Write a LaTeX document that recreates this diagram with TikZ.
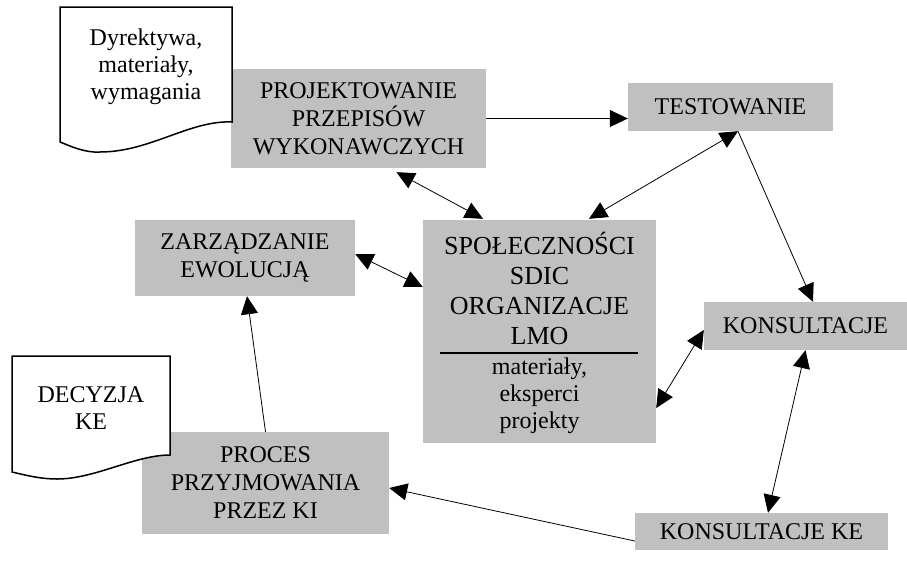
\documentclass[tikz,border=0pt]{standalone}
\usepackage{fontspec}
\setmainfont{Liberation Serif}
\usetikzlibrary{arrows.meta}
\definecolor{szary}{RGB}{192,192,192}

\begin{document}
\begin{tikzpicture}[x=1pt,y=-1pt,
  blok/.style={fill=szary,inner sep=0pt,align=center,font=\fontsize{24}{28}\selectfont},
  dok/.style={draw,fill=white,line width=1.5pt},
  doktekst/.style={inner sep=0pt,align=center,font=\fontsize{24}{27}\selectfont},
  grot/.style={line width=0.8pt,-{Triangle[length=18pt,width=17pt]}},
  grotdwa/.style={line width=0.8pt,{Triangle[length=18pt,width=17pt]}-{Triangle[length=18pt,width=17pt]}}]
  \useasboundingbox (0,0) rectangle (907,560);
  % Bloki
  \node[blok,minimum width=255pt,minimum height=99pt] (proj) at (358.5,118.5)
    {PROJEKTOWANIE\\PRZEPISÓW\\WYKONAWCZYCH};
  \node[blok,minimum width=205pt,minimum height=48pt] (test) at (730.5,107) {TESTOWANIE};
  \node[blok,minimum width=220pt,minimum height=76pt] (zarz) at (245,258)
    {ZARZĄDZANIE\\EWOLUCJĄ};
  \node[blok,minimum width=203pt,minimum height=48pt] (kons) at (805.5,326) {KONSULTACJE};
  \node[blok,minimum width=253pt,minimum height=37pt] (konske) at (761.5,531.5) {KONSULTACJE KE};
  \node[blok,minimum width=247pt,minimum height=102pt] (proc) at (265.5,483)
    {PROCES\\PRZYJMOWANIA\\PRZEZ KI};
  % Blok srodkowy
  \node[blok,minimum width=233pt,minimum height=223pt] (spol) at (539.5,331.5) {};
  \node[inner sep=0pt,align=center,font=\fontsize{26}{30}\selectfont] (spolgora) at (539.5,288.5)
    {SPOŁECZNOŚCI\\SDIC\\ORGANIZACJE\\LMO};
  \draw[line width=1.5pt] (440,353) -- (638,353);
  \node[doktekst] (spoldol) at (539.5,396) {materiały,\\eksperci\\projekty};
  % Dokumenty
  \draw[dok] (60,7) -- (232,7) -- (232,122) .. controls (190,120) and (150,152) .. (100,152)
    .. controls (85,153) and (70,146) .. (60,142) -- cycle;
  \node[doktekst] (dyr) at (146,67) {Dyrektywa,\\materiały,\\wymagania};
  \draw[dok] (12,356) -- (170,356) -- (170,455) .. controls (135,455) and (95,479) .. (57,479)
    .. controls (40,479) and (25,475) .. (12,472) -- cycle;
  \node[doktekst] (dec) at (91,408) {DECYZJA\\KE};
  % Strzalki
  \draw[grot] (proj.east) -- (proj.east -| test.west);
  \draw[grotdwa] ([xshift=38pt,yshift=-4pt]proj.south) -- ([xshift=-56.5pt,yshift=1pt]spol.north);
  \draw[grotdwa] ([xshift=7.5pt]test.south) -- ([xshift=49.5pt,yshift=1pt]spol.north);
  \draw[grot] ([xshift=7.5pt]test.south) -- ([xshift=7.5pt]kons.north);
  \draw[grotdwa] ([yshift=-4pt]kons.west) -- ([yshift=-76.5pt]spol.east);
  \draw[grotdwa] (kons.south) -- ([xshift=6.5pt]konske.north);
  \draw[grotdwa] ([yshift=4pt]zarz.east) -- ([yshift=44.5pt]spol.west);
  \draw[grot] ([yshift=-9.5pt]konske.west) -- ([yshift=-5pt]proc.east);
  \draw[grot] (proc.north) -- ([xshift=2pt]zarz.south);
\end{tikzpicture}
\end{document}
